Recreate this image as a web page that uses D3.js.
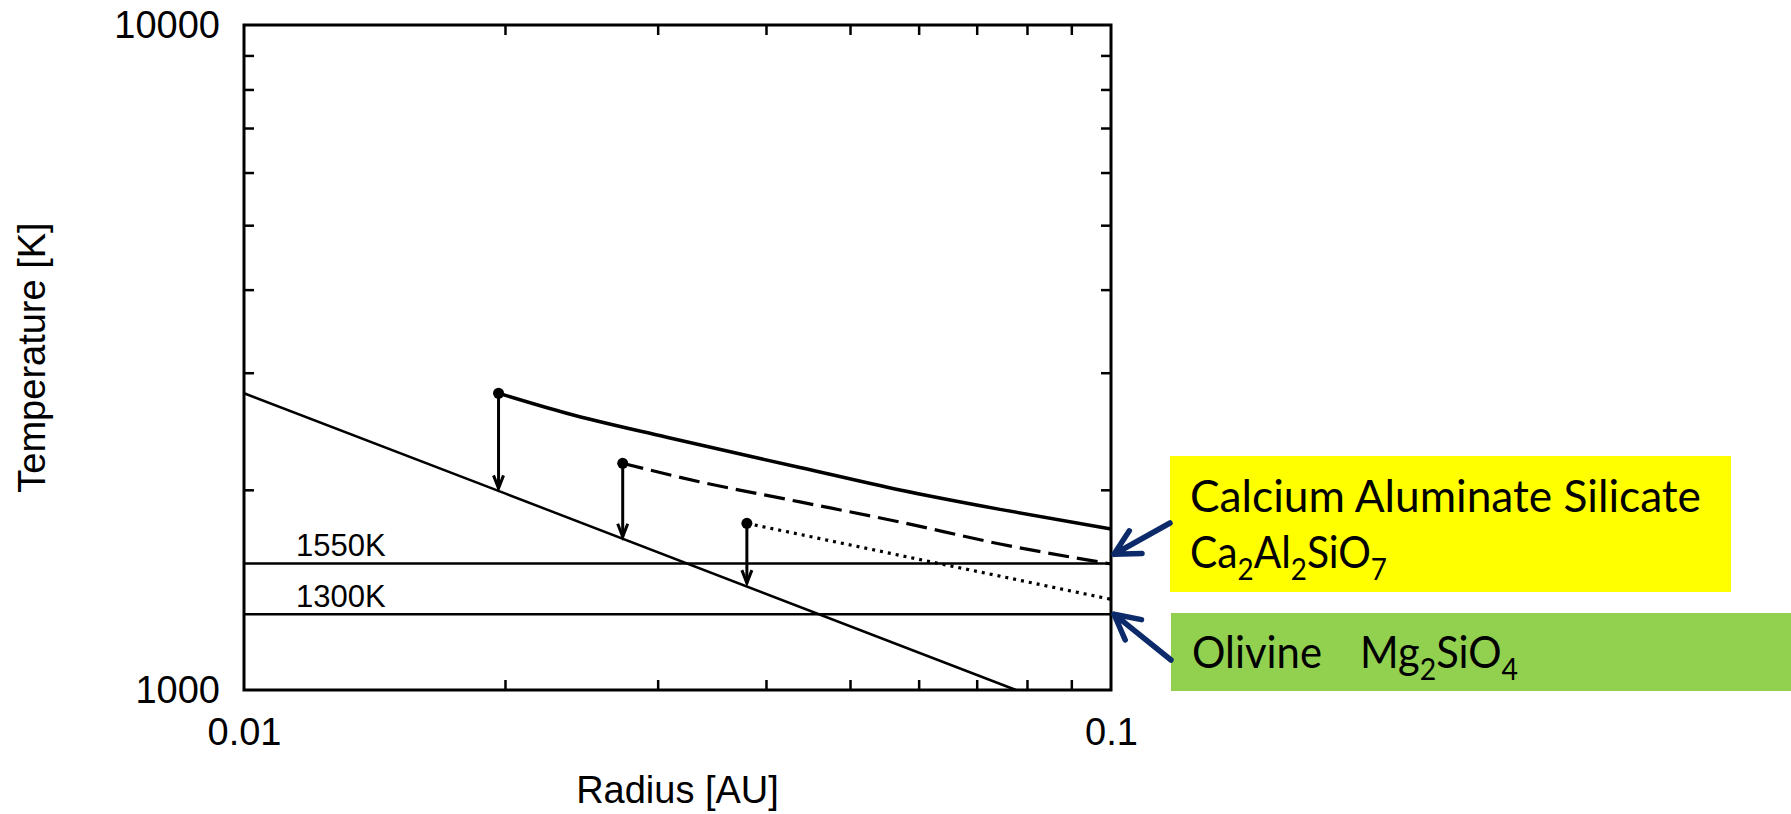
<!DOCTYPE html>
<html>
<head>
<meta charset="utf-8">
<script src="https://cdn.jsdelivr.net/npm/d3@7"></script>
<style>
  body { margin: 0; background: #fff; }
  svg text { font-family: "Liberation Sans", Arial, sans-serif; }
  .note { font-family: Lato, "Open Sans", sans-serif; }
</style>
</head>
<body>
<div id="chart"></div>
<script>
// x: radius [AU], y: temperature [K]
const radiusLabels = [0.01, 0.1];
const radiusMinor = [0.02, 0.03, 0.04, 0.05, 0.06, 0.07, 0.08, 0.09];
const tempLabels = [1000, 10000];
const tempMinor = [2000, 3000, 4000, 5000, 6000, 7000, 8000, 9000];

// thin steep disk profile
const diskR = [0.01, 0.02, 0.0777];
const diskT = [2794, 1975, 1000];

// thick solid curve
const solidR = [0.01966, 0.02356, 0.03073, 0.04378, 0.05709, 0.07447, 0.1];
const solidT = [2794, 2607, 2399, 2161, 1999, 1869, 1746];

// dashed curve
const dashedR = [0.02734, 0.0335, 0.04378, 0.05709, 0.07447, 0.1];
const dashedT = [2192, 2057, 1918, 1789, 1658, 1547];

// dotted curve
const dottedR = [0.03802, 0.05709, 0.1];
const dottedT = [1781, 1594, 1369];

// drop arrows: start of each curve down to the disk line
const dropR = [0.01966, 0.02734, 0.03802];
const dropTop = [2794, 2192, 1781];
const dropBottom = [2010, 1700, 1448];

// condensation temperatures
const condT = [1550, 1300];
const condLabels = ["1550K", "1300K"];

// annotation targets (temperature at r = 0.1)
const noteT = [1600, 1300];

const W = 1791, H = 814;
const margin = { top: 25, left: 244 };
const width = 867, height = 665;

const svg = d3.select("#chart").append("svg")
    .attr("width", W)
    .attr("height", H);

const g = svg.append("g")
    .attr("transform", "translate(" + margin.left + "," + margin.top + ")");

const x = d3.scaleLog().domain([0.01, 0.1]).range([0, width]);
const y = d3.scaleLog().domain([1000, 10000]).range([height, 0]);

// minor ticks on all four sides, pointing inward
function tickStyle(sel) {
    sel.select(".domain").remove();
    sel.selectAll("line").attr("stroke", "#000").attr("stroke-width", 2.5);
}
g.append("g").attr("transform", "translate(0," + height + ")")
    .call(d3.axisBottom(x).tickValues(radiusMinor).tickSize(-10).tickFormat(""))
    .call(tickStyle);
g.append("g")
    .call(d3.axisTop(x).tickValues(radiusMinor).tickSize(-10).tickFormat(""))
    .call(tickStyle);
g.append("g")
    .call(d3.axisLeft(y).tickValues(tempMinor).tickSize(-10).tickFormat(""))
    .call(tickStyle);
g.append("g").attr("transform", "translate(" + width + ",0)")
    .call(d3.axisRight(y).tickValues(tempMinor).tickSize(-10).tickFormat(""))
    .call(tickStyle);

// tick labels
const xLab = g.append("g").attr("transform", "translate(0," + height + ")")
    .call(d3.axisBottom(x).tickValues(radiusLabels).tickSize(0).tickPadding(28)
        .tickFormat(d3.format("")));
xLab.select(".domain").remove();
xLab.selectAll("text").attr("font-size", 38).attr("fill", "#000")
    .style("font-family", "Liberation Sans, Arial, sans-serif");

const yLab = g.append("g")
    .call(d3.axisLeft(y).tickValues(tempLabels).tickSize(0).tickPadding(24)
        .tickFormat(d3.format("d")));
yLab.select(".domain").remove();
yLab.selectAll("text").attr("font-size", 38).attr("fill", "#000")
    .style("font-family", "Liberation Sans, Arial, sans-serif");

// horizontal condensation lines
g.selectAll(".cond")
    .data(condT)
    .enter().append("line")
    .attr("x1", 0).attr("x2", width)
    .attr("y1", d => y(d)).attr("y2", d => y(d))
    .attr("stroke", "#000").attr("stroke-width", 2.5);

g.selectAll(".condLabel")
    .data(condT)
    .enter().append("text")
    .attr("x", 52)
    .attr("y", d => y(d) - 7)
    .attr("font-size", 31)
    .text((d, i) => condLabels[i]);

const line = d3.line()
    .x(d => x(d[0]))
    .y(d => y(d[1]));
const curved = d3.line()
    .x(d => x(d[0]))
    .y(d => y(d[1]))
    .curve(d3.curveMonotoneX);

const zip = (a, b) => a.map((v, i) => [v, b[i]]);

g.append("path")
    .datum(zip(diskR, diskT))
    .attr("d", line)
    .attr("fill", "none").attr("stroke", "#000").attr("stroke-width", 2.5);

g.append("path")
    .datum(zip(solidR, solidT))
    .attr("d", curved)
    .attr("fill", "none").attr("stroke", "#000").attr("stroke-width", 3.5);

g.append("path")
    .datum(zip(dashedR, dashedT))
    .attr("d", curved)
    .attr("fill", "none").attr("stroke", "#000").attr("stroke-width", 3.2)
    .attr("stroke-dasharray", "21,8");

g.append("path")
    .datum(zip(dottedR, dottedT))
    .attr("d", curved)
    .attr("fill", "none").attr("stroke", "#000").attr("stroke-width", 3.2)
    .attr("stroke-dasharray", "3,5");

// drop arrows
const drops = dropR.map((r, i) => ({ r: r, t0: dropTop[i], t1: dropBottom[i] }));
g.selectAll(".drop")
    .data(drops)
    .enter().append("line")
    .attr("x1", d => x(d.r)).attr("x2", d => x(d.r))
    .attr("y1", d => y(d.t0)).attr("y2", d => y(d.t1))
    .attr("stroke", "#000").attr("stroke-width", 3);
g.selectAll(".dropHead")
    .data(drops)
    .enter().append("path")
    .attr("d", d => {
        let px = x(d.r), py = y(d.t1);
        return "M" + (px - 5) + "," + (py - 13) + "L" + px + "," + py + "L" + (px + 5) + "," + (py - 13);
    })
    .attr("fill", "none").attr("stroke", "#000").attr("stroke-width", 3);
g.selectAll(".dot")
    .data(drops)
    .enter().append("circle")
    .attr("cx", d => x(d.r)).attr("cy", d => y(d.t0))
    .attr("r", 5.5).attr("fill", "#000");

// frame
g.append("rect")
    .attr("width", width).attr("height", height)
    .attr("fill", "none").attr("stroke", "#000").attr("stroke-width", 3);

// axis titles
g.append("text")
    .attr("x", width / 2).attr("y", 778)
    .attr("text-anchor", "middle")
    .attr("font-size", 38)
    .text("Radius [AU]");

g.append("text")
    .attr("transform", "translate(" + (45 - margin.left) + "," + (height / 2) + ") rotate(-90)")
    .attr("text-anchor", "middle")
    .attr("font-size", 38)
    .text("Temperature [K]");

// annotation boxes
svg.append("rect").attr("x", 1170).attr("y", 456).attr("width", 561).attr("height", 136)
    .attr("fill", "#ffff00");
svg.append("rect").attr("x", 1171).attr("y", 613).attr("width", 620).attr("height", 78)
    .attr("fill", "#92d050");

function note(px, py, parts, len) {
    let t = svg.append("text").attr("class", "note")
        .attr("x", px).attr("y", py)
        .attr("font-size", 44).attr("fill", "#000");
    let shift = 0;
    parts.forEach(p => {
        let s = t.append("tspan").text(p.s);
        if (p.sub) {
            s.attr("font-size", 30).attr("dy", 12 - shift);
            shift = 12;
        } else if (shift) {
            s.attr("dy", -shift);
            shift = 0;
        }
    });
    if (len) t.attr("textLength", len).attr("lengthAdjust", "spacingAndGlyphs");
    return t;
}
note(1190, 512, [{ s: "Calcium Aluminate Silicate" }], 511);
note(1190, 568, [{ s: "Ca" }, { s: "2", sub: true }, { s: "Al" }, { s: "2", sub: true },
    { s: "SiO" }, { s: "7", sub: true }], 197);
note(1192, 668, [{ s: "Olivine" }], 130);
note(1360, 668, [{ s: "Mg" }, { s: "2", sub: true }, { s: "SiO" }, { s: "4", sub: true }], 158);

// annotation arrows
const navy = "#0d2b6b";
function noteArrow(tipX, tipY, tailX, tailY) {
    let a = Math.atan2(tailY - tipY, tailX - tipX);
    let L = 28, s = Math.PI / 6.5;
    let p = "M" + tailX + "," + tailY + "L" + tipX + "," + tipY +
        "M" + (tipX + L * Math.cos(a - s)) + "," + (tipY + L * Math.sin(a - s)) +
        "L" + tipX + "," + tipY +
        "L" + (tipX + L * Math.cos(a + s)) + "," + (tipY + L * Math.sin(a + s));
    svg.append("path").attr("d", p)
        .attr("fill", "none").attr("stroke", navy).attr("stroke-width", 5.5)
        .attr("stroke-linecap", "round").attr("stroke-linejoin", "round");
}
let tipX = margin.left + x(0.1) + 3;
noteArrow(tipX, margin.top + y(noteT[0]), 1170, 523);
noteArrow(tipX, margin.top + y(noteT[1]), 1171, 660);
</script>
</body>
</html>
